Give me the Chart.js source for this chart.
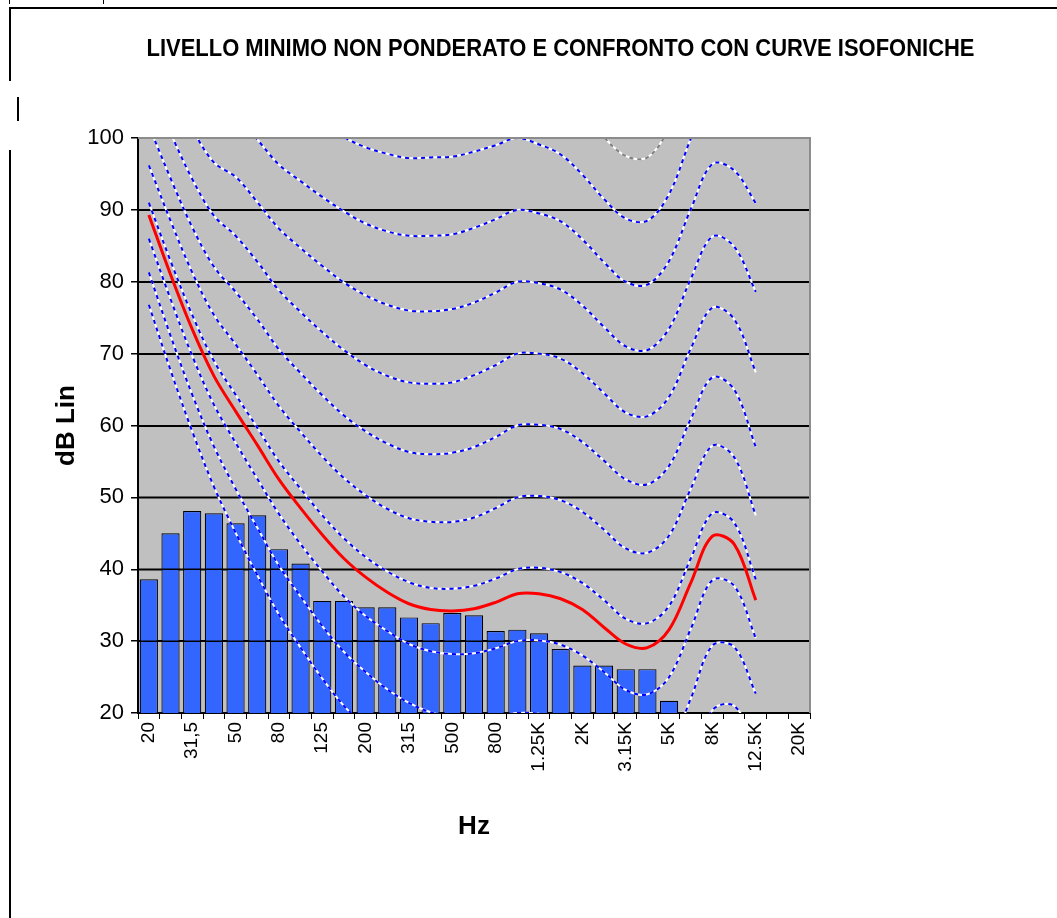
<!DOCTYPE html>
<html lang="it">
<head>
<meta charset="utf-8">
<title>Livello minimo non ponderato</title>
<script src="https://cdn.jsdelivr.net/npm/chart.js@4.4.1/dist/chart.umd.min.js"></script>
<style>
  html, body { margin: 0; padding: 0; background: #fff; }
  body { position: relative; width: 1057px; height: 918px; overflow: hidden; }
  .riga { position: absolute; background: #000; }
  #titolo {
    position: absolute; left: 60px; width: 1001px; top: 36px; margin: 0;
    text-align: center; white-space: nowrap;
    font: bold 24px/24px "Liberation Sans Narrow", "Liberation Sans", Arial, sans-serif;
    color: #000; z-index: 2;
    transform: scaleX(0.915); transform-origin: 50% 50%;
  }
  #grafico { position: absolute; left: 0; top: 0; }
</style>
</head>
<body>
<!-- cornice della tabella del documento -->
<div class="riga" style="left:9px; top:0; width:1px; height:4px"></div>
<div class="riga" style="left:103px; top:0; width:1px; height:4px"></div>
<div class="riga" style="left:9px; top:7px; width:1048px; height:2px"></div>
<div class="riga" style="left:9px; top:7px; width:2px; height:74px"></div>
<div class="riga" style="left:17px; top:97px; width:2px; height:24px"></div>
<div class="riga" style="left:9px; top:150px; width:2px; height:768px"></div>

<h1 id="titolo">LIVELLO MINIMO NON PONDERATO E CONFRONTO CON CURVE ISOFONICHE</h1>
<canvas id="grafico" width="1057" height="918"></canvas>

<script>
// Bande di terzo d'ottava (Hz)
const bande = ['20','25','31,5','40','50','63','80','100','125','160','200','250','315','400','500','630','800','1K','1.25K','1.6K','2K','2.5K','3.15K','4K','5K','6.3K','8K','10K','12.5K','16K','20K'];

// Livello minimo misurato, non ponderato (dB)
const livelloMinimo = [38.6,45.0,48.1,47.8,46.4,47.5,42.8,40.8,35.6,35.6,34.7,34.7,33.3,32.5,33.9,33.6,31.4,31.6,31.1,28.9,26.6,26.6,26.1,26.1,21.7,null,null,null,null,null,null];

// Curva isofonica di confronto (dB)
const curvaConfronto = [89.3,81.0,73.4,66.9,62.0,57.3,52.5,48.5,44.8,41.5,38.9,36.8,35.2,34.4,34.2,34.5,35.4,36.6,36.6,35.9,34.4,31.9,29.6,29.1,31.6,38.1,44.6,43.5,35.7,null,null];

// Curve isofoniche (dB) da 10 a 110 phon
const phon10  = [76.8,67.7,59.2,51.5,45.1,39.2,33.7,29.1,24.8,21.0,18.1,15.6,13.4,11.9,10.9,10.1,9.9,10.0,9.7,8.7,7.2,5.0,2.6,2.2,4.8,12.2,20.4,21.0,15.5,null,null];
const phon20  = [81.3,72.5,64.3,57.1,51.2,45.8,40.5,36.2,32.1,28.5,25.7,23.3,21.4,20.1,19.4,19.1,19.4,20.0,19.9,19.2,17.7,15.4,13.0,12.5,15.0,22.0,29.4,29.2,22.7,null,null];
const phon30  = [86.0,77.6,69.7,62.9,57.6,52.6,47.7,43.5,39.7,36.2,33.5,31.4,29.6,28.6,28.2,28.3,29.0,30.0,30.1,29.5,28.0,25.7,23.2,22.6,25.0,31.7,38.5,37.7,30.4,null,null];
const phon40  = [91.0,82.9,75.4,69.0,64.3,59.7,55.0,51.2,47.5,44.3,41.7,39.7,38.2,37.4,37.3,37.7,38.7,40.0,40.2,39.6,38.1,35.7,33.1,32.5,34.9,41.5,47.8,46.5,38.6,null,null];
const phon50  = [96.2,88.5,81.3,75.4,71.3,67.1,62.7,59.1,55.7,52.7,50.3,48.4,47.1,46.6,46.6,47.2,48.5,50.0,50.2,49.6,48.0,45.5,42.9,42.3,44.7,51.2,57.2,55.6,47.5,null,null];
const phon60  = [101.7,94.4,87.6,82.1,78.6,74.8,70.6,67.3,64.2,61.4,59.2,57.5,56.3,56.0,56.2,57.0,58.4,60.0,60.1,59.5,57.7,55.1,52.5,51.8,54.4,60.9,66.7,65.0,57.0,null,null];
const phon70  = [107.6,100.7,94.3,89.2,86.4,82.8,78.8,75.8,73.0,70.5,68.4,66.9,66.0,65.8,66.0,67.0,68.4,70.0,70.0,69.3,67.3,64.5,61.8,61.3,64.0,70.7,76.4,74.8,67.4,null,null];
const phon80  = [113.7,107.3,101.3,96.6,94.6,91.1,87.4,84.7,82.2,79.9,78.1,76.8,76.0,75.9,76.2,77.1,78.5,80.0,79.8,78.9,76.7,73.7,71.0,70.5,73.5,80.4,86.3,84.9,78.6,null,null];
const phon90  = [120.3,114.4,108.7,104.4,103.2,99.8,96.3,94.0,91.8,89.8,88.1,87.0,86.4,86.4,86.6,87.5,88.7,90.0,89.5,88.4,85.9,82.7,80.0,79.6,82.9,90.1,96.4,95.5,90.9,null,null];
const phon100 = [127.2,121.9,116.6,112.6,112.3,108.9,105.6,103.6,101.8,100.1,98.7,97.8,97.2,97.3,97.4,98.1,99.0,100.0,99.1,97.7,94.9,91.5,88.8,88.5,92.2,99.9,106.6,106.4,104.3,null,null];
const phon110 = [134.6,129.8,125.0,121.3,121.9,118.4,115.3,113.7,112.3,110.9,109.7,109.0,108.6,108.6,108.6,109.0,109.5,110.0,108.6,107.0,103.8,100.1,97.5,97.3,101.4,109.6,117.0,117.9,119.0,null,null];

// Etichette dell'asse delle ordinate
const tacheY = [20,30,40,50,60,70,80,90,100];

const isofone = [
  [phon10, '#0000FF'], [phon20, '#0000FF'], [phon30, '#0000FF'], [phon40, '#0000FF'],
  [phon50, '#0000FF'], [phon60, '#0000FF'], [phon70, '#0000FF'], [phon80, '#0000FF'],
  [phon90, '#0000FF'], [phon100, '#0000FF'], [phon110, '#808080']
];

const TENSIONE = 0.35;
const datasets = [];

datasets.push({
  type: 'bar',
  label: 'Livello minimo',
  data: livelloMinimo,
  backgroundColor: '#3366FF',
  borderColor: '#000000',
  borderWidth: 1.2,
  barPercentage: 0.84,
  categoryPercentage: 1,
  order: 5
});

// ogni isofona: tratto bianco continuo sotto, tratteggio colorato sopra
isofone.forEach(([valori, colore]) => {
  datasets.push({
    type: 'line', data: valori, borderColor: '#FFFFFF', borderWidth: 2,
    pointRadius: 0, tension: TENSIONE, fill: false, order: 4
  });
  datasets.push({
    type: 'line', data: valori, borderColor: colore, borderWidth: 2,
    borderDash: [4, 4], pointRadius: 0, tension: TENSIONE, fill: false, order: 3
  });
});

datasets.push({
  type: 'line',
  label: 'Curva di confronto',
  data: curvaConfronto,
  borderColor: '#FF0000',
  borderWidth: 3,
  pointRadius: 0,
  tension: TENSIONE,
  fill: false,
  order: 1
});

// sfondo grigio dell'area, griglia sopra le barre, bordo superiore/destro
const areaGrafico = {
  id: 'areaGrafico',
  beforeDraw(chart) {
    const { ctx, chartArea: a } = chart;
    ctx.save();
    ctx.fillStyle = '#C0C0C0';
    ctx.fillRect(a.left, a.top, a.right - a.left, a.bottom - a.top);
    ctx.restore();
  },
  afterDatasetDraw(chart, args) {
    if (args.meta.type !== 'bar') return;
    const { ctx, chartArea: a, scales: { y } } = chart;
    ctx.save();
    ctx.strokeStyle = '#000';
    ctx.lineWidth = 1.5;
    tacheY.filter(v => v > 20 && v < 100).forEach(v => {
      const py = Math.round(y.getPixelForValue(v)) + 0.25;
      ctx.beginPath();
      ctx.moveTo(a.left, py);
      ctx.lineTo(a.right, py);
      ctx.stroke();
    });
    ctx.restore();
  },
  afterDatasetsDraw(chart) {
    const { ctx, chartArea: a } = chart;
    ctx.save();
    ctx.strokeStyle = '#8C8C8C';
    ctx.lineWidth = 2;
    ctx.beginPath();
    ctx.moveTo(a.left, a.top);
    ctx.lineTo(a.right, a.top);
    ctx.lineTo(a.right, a.bottom);
    ctx.stroke();
    ctx.restore();
  }
};

const fontAssi = { family: '"Liberation Sans", Arial, sans-serif' };

new Chart(document.getElementById('grafico'), {
  data: { labels: bande, datasets },
  options: {
    responsive: false,
    animation: false,
    events: [],
    layout: { padding: { left: 0, right: 247, top: 138, bottom: 0 } },
    elements: { line: { capBezierPoints: false } },
    plugins: { legend: { display: false }, tooltip: { enabled: false }, title: { display: false } },
    scales: {
      x: {
        type: 'category',
        offset: true,
        grid: { offset: true, drawOnChartArea: false, color: '#000', tickLength: 6, lineWidth: 1 },
        border: { color: '#000', width: 2 },
        ticks: {
          autoSkip: false, minRotation: 90, maxRotation: 90, padding: 3,
          color: '#000', font: { ...fontAssi, size: 19 },
          callback(valore, i) { return i % 2 === 0 ? bande[i] : ''; }
        },
        title: {
          display: true, text: 'Hz', color: '#000',
          font: { family: '"Liberation Sans Narrow", "Liberation Sans", Arial, sans-serif', size: 26, weight: 'bold' },
          padding: { top: 0, bottom: 76 }
        },
        afterFit(scala) { scala.height = 205; }
      },
      y: {
        min: 20, max: 100,
        afterBuildTicks(scala) { scala.ticks = tacheY.map(v => ({ value: v })); },
        grid: {
          color: c => (c.tick && c.tick.value === 100) ? 'rgba(0,0,0,0)' : '#000',
          tickColor: '#000', tickLength: 7, lineWidth: 1.5
        },
        border: { color: '#000', width: 2 },
        ticks: { padding: 7, color: '#000', font: { ...fontAssi, size: 22 } },
        title: {
          display: true, text: 'dB Lin', color: '#000',
          font: { family: '"Liberation Sans Narrow", "Liberation Sans", Arial, sans-serif', size: 26, weight: 'bold' },
          padding: { top: 51, bottom: 0 }
        },
        afterFit(scala) { scala.width = 138; }
      }
    }
  },
  plugins: [areaGrafico]
});
</script>
</body>
</html>
